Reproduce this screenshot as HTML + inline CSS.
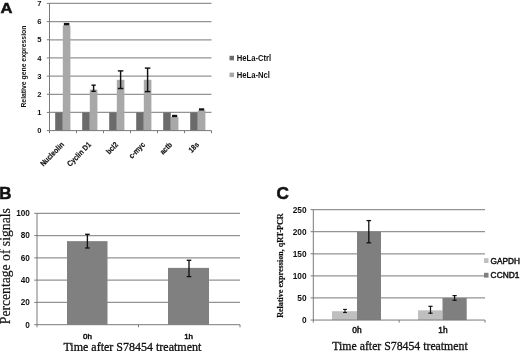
<!DOCTYPE html>
<html><head><meta charset="utf-8"><title>Figure</title>
<style>
html,body{margin:0;padding:0;background:#fff;}
body{width:520px;height:351px;overflow:hidden;font-family:"Liberation Sans",sans-serif;}
svg{display:block;filter:grayscale(1);will-change:transform;}
</style></head><body>
<svg width="520" height="351" viewBox="0 0 520 351">
<rect x="0" y="0" width="520" height="351" fill="#ffffff"/>
<line x1="49.50" y1="112.43" x2="211.50" y2="112.43" stroke="#939393" stroke-width="1.25"/>
<line x1="49.50" y1="94.26" x2="211.50" y2="94.26" stroke="#939393" stroke-width="1.25"/>
<line x1="49.50" y1="76.09" x2="211.50" y2="76.09" stroke="#939393" stroke-width="1.25"/>
<line x1="49.50" y1="57.92" x2="211.50" y2="57.92" stroke="#939393" stroke-width="1.25"/>
<line x1="49.50" y1="39.75" x2="211.50" y2="39.75" stroke="#939393" stroke-width="1.25"/>
<line x1="49.50" y1="21.58" x2="211.50" y2="21.58" stroke="#939393" stroke-width="1.25"/>
<line x1="49.50" y1="3.41" x2="211.50" y2="3.41" stroke="#939393" stroke-width="1.25"/>
<rect x="55.20" y="112.43" width="7.60" height="18.17" fill="#6b6b6b"/>
<rect x="62.80" y="25.40" width="7.60" height="105.20" fill="#a8a8a8"/>
<rect x="82.20" y="112.43" width="7.60" height="18.17" fill="#6b6b6b"/>
<rect x="89.80" y="89.59" width="7.60" height="41.01" fill="#a8a8a8"/>
<rect x="109.20" y="112.43" width="7.60" height="18.17" fill="#6b6b6b"/>
<rect x="116.80" y="79.80" width="7.60" height="50.80" fill="#a8a8a8"/>
<rect x="136.20" y="112.43" width="7.60" height="18.17" fill="#6b6b6b"/>
<rect x="143.80" y="79.80" width="7.60" height="50.80" fill="#a8a8a8"/>
<rect x="163.20" y="112.43" width="7.60" height="18.17" fill="#6b6b6b"/>
<rect x="170.80" y="116.90" width="7.60" height="13.70" fill="#a8a8a8"/>
<rect x="190.20" y="112.43" width="7.60" height="18.17" fill="#6b6b6b"/>
<rect x="197.80" y="110.39" width="7.60" height="20.21" fill="#a8a8a8"/>
<line x1="49.50" y1="3.41" x2="49.50" y2="133.20" stroke="#7a7a7a" stroke-width="1"/>
<line x1="46.80" y1="130.60" x2="211.50" y2="130.60" stroke="#7a7a7a" stroke-width="1"/>
<line x1="46.80" y1="112.43" x2="49.50" y2="112.43" stroke="#7a7a7a" stroke-width="1"/>
<line x1="46.80" y1="94.26" x2="49.50" y2="94.26" stroke="#7a7a7a" stroke-width="1"/>
<line x1="46.80" y1="76.09" x2="49.50" y2="76.09" stroke="#7a7a7a" stroke-width="1"/>
<line x1="46.80" y1="57.92" x2="49.50" y2="57.92" stroke="#7a7a7a" stroke-width="1"/>
<line x1="46.80" y1="39.75" x2="49.50" y2="39.75" stroke="#7a7a7a" stroke-width="1"/>
<line x1="46.80" y1="21.58" x2="49.50" y2="21.58" stroke="#7a7a7a" stroke-width="1"/>
<line x1="46.80" y1="3.41" x2="49.50" y2="3.41" stroke="#7a7a7a" stroke-width="1"/>
<line x1="76.50" y1="130.60" x2="76.50" y2="133.20" stroke="#7a7a7a" stroke-width="1"/>
<line x1="103.50" y1="130.60" x2="103.50" y2="133.20" stroke="#7a7a7a" stroke-width="1"/>
<line x1="130.50" y1="130.60" x2="130.50" y2="133.20" stroke="#7a7a7a" stroke-width="1"/>
<line x1="157.50" y1="130.60" x2="157.50" y2="133.20" stroke="#7a7a7a" stroke-width="1"/>
<line x1="184.50" y1="130.60" x2="184.50" y2="133.20" stroke="#7a7a7a" stroke-width="1"/>
<line x1="211.50" y1="130.60" x2="211.50" y2="133.20" stroke="#7a7a7a" stroke-width="1"/>
<rect x="63.85" y="22.90" width="5.50" height="2.50" fill="#111"/>
<line x1="93.60" y1="85.19" x2="93.60" y2="91.30" stroke="#111" stroke-width="1.45"/>
<line x1="91.50" y1="85.19" x2="95.70" y2="85.19" stroke="#111" stroke-width="1.45"/>
<line x1="91.50" y1="91.30" x2="95.70" y2="91.30" stroke="#111" stroke-width="1.45"/>
<line x1="120.60" y1="70.89" x2="120.60" y2="88.50" stroke="#111" stroke-width="1.45"/>
<line x1="117.85" y1="70.89" x2="123.35" y2="70.89" stroke="#111" stroke-width="1.45"/>
<line x1="117.85" y1="88.50" x2="123.35" y2="88.50" stroke="#111" stroke-width="1.45"/>
<line x1="147.60" y1="68.10" x2="147.60" y2="91.61" stroke="#111" stroke-width="1.45"/>
<line x1="144.85" y1="68.10" x2="150.35" y2="68.10" stroke="#111" stroke-width="1.45"/>
<line x1="144.85" y1="91.61" x2="150.35" y2="91.61" stroke="#111" stroke-width="1.45"/>
<rect x="172.00" y="114.80" width="5.20" height="2.30" fill="#111"/>
<rect x="199.00" y="108.30" width="5.20" height="2.30" fill="#111"/>
<text x="41.50" y="133.30" font-family='"Liberation Sans", sans-serif' font-size="7.6" font-weight="bold" text-anchor="end" fill="#111">0</text>
<text x="41.50" y="115.13" font-family='"Liberation Sans", sans-serif' font-size="7.6" font-weight="bold" text-anchor="end" fill="#111">1</text>
<text x="41.50" y="96.96" font-family='"Liberation Sans", sans-serif' font-size="7.6" font-weight="bold" text-anchor="end" fill="#111">2</text>
<text x="41.50" y="78.79" font-family='"Liberation Sans", sans-serif' font-size="7.6" font-weight="bold" text-anchor="end" fill="#111">3</text>
<text x="41.50" y="60.62" font-family='"Liberation Sans", sans-serif' font-size="7.6" font-weight="bold" text-anchor="end" fill="#111">4</text>
<text x="41.50" y="42.45" font-family='"Liberation Sans", sans-serif' font-size="7.6" font-weight="bold" text-anchor="end" fill="#111">5</text>
<text x="41.50" y="24.28" font-family='"Liberation Sans", sans-serif' font-size="7.6" font-weight="bold" text-anchor="end" fill="#111">6</text>
<text x="41.50" y="6.11" font-family='"Liberation Sans", sans-serif' font-size="7.6" font-weight="bold" text-anchor="end" fill="#111">7</text>
<text x="26.50" y="107.60" font-family='"Liberation Sans", sans-serif' font-size="7.8" font-weight="bold" text-anchor="start" fill="#111" transform="rotate(-90 26.50 107.60)" textLength="82.00" lengthAdjust="spacingAndGlyphs">Relative gene expression</text>
<text x="64.60" y="145.20" font-family='"Liberation Sans", sans-serif' font-size="7.8" font-weight="bold" text-anchor="end" fill="#111" transform="rotate(-45.5 64.60 145.20)" textLength="30.19" lengthAdjust="spacingAndGlyphs" stroke="#111" stroke-width="0.15">Nucleolin</text>
<text x="91.60" y="145.20" font-family='"Liberation Sans", sans-serif' font-size="7.8" font-weight="bold" text-anchor="end" fill="#111" transform="rotate(-45.5 91.60 145.20)" textLength="30.57" lengthAdjust="spacingAndGlyphs" stroke="#111" stroke-width="0.15">Cyclin D1</text>
<text x="118.60" y="145.20" font-family='"Liberation Sans", sans-serif' font-size="7.8" font-weight="bold" text-anchor="end" fill="#111" transform="rotate(-45.5 118.60 145.20)" textLength="13.42" lengthAdjust="spacingAndGlyphs" stroke="#111" stroke-width="0.15">bcl2</text>
<text x="145.60" y="145.20" font-family='"Liberation Sans", sans-serif' font-size="7.8" font-weight="bold" text-anchor="end" fill="#111" transform="rotate(-45.5 145.60 145.20)" textLength="19.39" lengthAdjust="spacingAndGlyphs" stroke="#111" stroke-width="0.15">c-myc</text>
<text x="172.60" y="145.20" font-family='"Liberation Sans", sans-serif' font-size="7.8" font-weight="bold" text-anchor="end" fill="#111" transform="rotate(-45.5 172.60 145.20)" textLength="13.79" lengthAdjust="spacingAndGlyphs" stroke="#111" stroke-width="0.15">actb</text>
<text x="199.60" y="145.20" font-family='"Liberation Sans", sans-serif' font-size="7.8" font-weight="bold" text-anchor="end" fill="#111" transform="rotate(-45.5 199.60 145.20)" textLength="11.19" lengthAdjust="spacingAndGlyphs" stroke="#111" stroke-width="0.15">18s</text>
<rect x="229.50" y="55.80" width="4.50" height="4.50" fill="#6b6b6b"/>
<text x="236.70" y="60.60" font-family='"Liberation Sans", sans-serif' font-size="8.4" font-weight="bold" text-anchor="start" fill="#111" textLength="34.50" lengthAdjust="spacingAndGlyphs">HeLa-Ctrl</text>
<rect x="229.50" y="72.60" width="4.50" height="4.50" fill="#a8a8a8"/>
<text x="236.70" y="77.80" font-family='"Liberation Sans", sans-serif' font-size="8.4" font-weight="bold" text-anchor="start" fill="#111" textLength="33.30" lengthAdjust="spacingAndGlyphs">HeLa-Ncl</text>
<text x="0.50" y="13.30" font-family='"Liberation Sans", sans-serif' font-size="15.2" font-weight="bold" text-anchor="start" fill="#111" textLength="12.00" lengthAdjust="spacingAndGlyphs" stroke="#111" stroke-width="0.5">A</text>
<line x1="37.00" y1="302.42" x2="240.00" y2="302.42" stroke="#939393" stroke-width="1.25"/>
<line x1="37.00" y1="280.14" x2="240.00" y2="280.14" stroke="#939393" stroke-width="1.25"/>
<line x1="37.00" y1="257.86" x2="240.00" y2="257.86" stroke="#939393" stroke-width="1.25"/>
<line x1="37.00" y1="235.58" x2="240.00" y2="235.58" stroke="#939393" stroke-width="1.25"/>
<line x1="37.00" y1="213.30" x2="240.00" y2="213.30" stroke="#939393" stroke-width="1.25"/>
<rect x="67.00" y="241.15" width="40.50" height="83.55" fill="#808080"/>
<rect x="168.00" y="267.89" width="41.00" height="56.81" fill="#808080"/>
<line x1="37.00" y1="213.30" x2="37.00" y2="327.30" stroke="#7a7a7a" stroke-width="1"/>
<line x1="34.30" y1="324.70" x2="240.00" y2="324.70" stroke="#7a7a7a" stroke-width="1"/>
<line x1="34.30" y1="302.42" x2="37.00" y2="302.42" stroke="#7a7a7a" stroke-width="1"/>
<line x1="34.30" y1="280.14" x2="37.00" y2="280.14" stroke="#7a7a7a" stroke-width="1"/>
<line x1="34.30" y1="257.86" x2="37.00" y2="257.86" stroke="#7a7a7a" stroke-width="1"/>
<line x1="34.30" y1="235.58" x2="37.00" y2="235.58" stroke="#7a7a7a" stroke-width="1"/>
<line x1="34.30" y1="213.30" x2="37.00" y2="213.30" stroke="#7a7a7a" stroke-width="1"/>
<line x1="138.50" y1="324.70" x2="138.50" y2="327.30" stroke="#7a7a7a" stroke-width="1"/>
<line x1="240.00" y1="324.70" x2="240.00" y2="327.30" stroke="#7a7a7a" stroke-width="1"/>
<line x1="87.40" y1="234.30" x2="87.40" y2="248.00" stroke="#111" stroke-width="1.35"/>
<line x1="85.10" y1="234.30" x2="89.70" y2="234.30" stroke="#111" stroke-width="1.35"/>
<line x1="85.10" y1="248.00" x2="89.70" y2="248.00" stroke="#111" stroke-width="1.35"/>
<line x1="189.00" y1="260.30" x2="189.00" y2="276.60" stroke="#111" stroke-width="1.35"/>
<line x1="186.70" y1="260.30" x2="191.30" y2="260.30" stroke="#111" stroke-width="1.35"/>
<line x1="186.70" y1="276.60" x2="191.30" y2="276.60" stroke="#111" stroke-width="1.35"/>
<text x="29.80" y="327.60" font-family='"Liberation Sans", sans-serif' font-size="8.2" font-weight="bold" text-anchor="end" fill="#111">0</text>
<text x="29.80" y="305.32" font-family='"Liberation Sans", sans-serif' font-size="8.2" font-weight="bold" text-anchor="end" fill="#111">20</text>
<text x="29.80" y="283.04" font-family='"Liberation Sans", sans-serif' font-size="8.2" font-weight="bold" text-anchor="end" fill="#111">40</text>
<text x="29.80" y="260.76" font-family='"Liberation Sans", sans-serif' font-size="8.2" font-weight="bold" text-anchor="end" fill="#111">60</text>
<text x="29.80" y="238.48" font-family='"Liberation Sans", sans-serif' font-size="8.2" font-weight="bold" text-anchor="end" fill="#111">80</text>
<text x="29.80" y="216.20" font-family='"Liberation Sans", sans-serif' font-size="8.2" font-weight="bold" text-anchor="end" fill="#111">100</text>
<text x="87.40" y="338.50" font-family='"Liberation Sans", sans-serif' font-size="8" font-weight="normal" text-anchor="middle" fill="#111" stroke="#111" stroke-width="0.5">0h</text>
<text x="188.60" y="338.50" font-family='"Liberation Sans", sans-serif' font-size="8" font-weight="normal" text-anchor="middle" fill="#111" stroke="#111" stroke-width="0.5">1h</text>
<text x="63.40" y="350.50" font-family='"Liberation Serif", serif' font-size="12" font-weight="normal" text-anchor="start" fill="#111" textLength="138.00" lengthAdjust="spacingAndGlyphs" stroke="#111" stroke-width="0.3">Time after S78454 treatment</text>
<text x="10.00" y="324.20" font-family='"Liberation Serif", serif' font-size="14" font-weight="normal" text-anchor="start" fill="#111" transform="rotate(-90 10.00 324.20)" textLength="116.00" lengthAdjust="spacingAndGlyphs" stroke="#111" stroke-width="0.2">Percentage of signals</text>
<text x="-0.80" y="198.90" font-family='"Liberation Sans", sans-serif' font-size="15.6" font-weight="bold" text-anchor="start" fill="#111" textLength="12.20" lengthAdjust="spacingAndGlyphs" stroke="#111" stroke-width="0.5">B</text>
<line x1="313.30" y1="297.96" x2="485.00" y2="297.96" stroke="#939393" stroke-width="1.25"/>
<line x1="313.30" y1="275.87" x2="485.00" y2="275.87" stroke="#939393" stroke-width="1.25"/>
<line x1="313.30" y1="253.78" x2="485.00" y2="253.78" stroke="#939393" stroke-width="1.25"/>
<line x1="313.30" y1="231.69" x2="485.00" y2="231.69" stroke="#939393" stroke-width="1.25"/>
<line x1="313.30" y1="209.60" x2="485.00" y2="209.60" stroke="#939393" stroke-width="1.25"/>
<rect x="332.00" y="311.21" width="25.00" height="8.84" fill="#bfbfbf"/>
<rect x="357.00" y="231.69" width="24.00" height="88.36" fill="#7f7f7f"/>
<rect x="418.00" y="310.33" width="24.50" height="9.72" fill="#bfbfbf"/>
<rect x="442.50" y="297.96" width="24.20" height="22.09" fill="#7f7f7f"/>
<line x1="313.30" y1="209.60" x2="313.30" y2="322.65" stroke="#7a7a7a" stroke-width="1"/>
<line x1="310.60" y1="320.05" x2="485.00" y2="320.05" stroke="#7a7a7a" stroke-width="1"/>
<line x1="310.60" y1="297.96" x2="313.30" y2="297.96" stroke="#7a7a7a" stroke-width="1"/>
<line x1="310.60" y1="275.87" x2="313.30" y2="275.87" stroke="#7a7a7a" stroke-width="1"/>
<line x1="310.60" y1="253.78" x2="313.30" y2="253.78" stroke="#7a7a7a" stroke-width="1"/>
<line x1="310.60" y1="231.69" x2="313.30" y2="231.69" stroke="#7a7a7a" stroke-width="1"/>
<line x1="310.60" y1="209.60" x2="313.30" y2="209.60" stroke="#7a7a7a" stroke-width="1"/>
<line x1="399.15" y1="320.05" x2="399.15" y2="322.65" stroke="#7a7a7a" stroke-width="1"/>
<line x1="485.00" y1="320.05" x2="485.00" y2="322.65" stroke="#7a7a7a" stroke-width="1"/>
<line x1="345.00" y1="309.40" x2="345.00" y2="312.50" stroke="#111" stroke-width="1.1"/>
<line x1="343.10" y1="309.40" x2="346.90" y2="309.40" stroke="#111" stroke-width="1.1"/>
<line x1="343.10" y1="312.50" x2="346.90" y2="312.50" stroke="#111" stroke-width="1.1"/>
<line x1="368.80" y1="220.60" x2="368.80" y2="242.80" stroke="#111" stroke-width="1.3"/>
<line x1="366.50" y1="220.60" x2="371.10" y2="220.60" stroke="#111" stroke-width="1.3"/>
<line x1="366.50" y1="242.80" x2="371.10" y2="242.80" stroke="#111" stroke-width="1.3"/>
<line x1="430.50" y1="306.30" x2="430.50" y2="313.20" stroke="#111" stroke-width="1.2"/>
<line x1="428.40" y1="306.30" x2="432.60" y2="306.30" stroke="#111" stroke-width="1.2"/>
<line x1="428.40" y1="313.20" x2="432.60" y2="313.20" stroke="#111" stroke-width="1.2"/>
<line x1="454.60" y1="295.60" x2="454.60" y2="300.30" stroke="#111" stroke-width="1.2"/>
<line x1="452.50" y1="295.60" x2="456.70" y2="295.60" stroke="#111" stroke-width="1.2"/>
<line x1="452.50" y1="300.30" x2="456.70" y2="300.30" stroke="#111" stroke-width="1.2"/>
<text x="306.50" y="323.05" font-family='"Liberation Sans", sans-serif' font-size="8.3" font-weight="bold" text-anchor="end" fill="#111">0</text>
<text x="306.50" y="300.96" font-family='"Liberation Sans", sans-serif' font-size="8.3" font-weight="bold" text-anchor="end" fill="#111">50</text>
<text x="306.50" y="278.87" font-family='"Liberation Sans", sans-serif' font-size="8.3" font-weight="bold" text-anchor="end" fill="#111">100</text>
<text x="306.50" y="256.78" font-family='"Liberation Sans", sans-serif' font-size="8.3" font-weight="bold" text-anchor="end" fill="#111">150</text>
<text x="306.50" y="234.69" font-family='"Liberation Sans", sans-serif' font-size="8.3" font-weight="bold" text-anchor="end" fill="#111">200</text>
<text x="306.50" y="212.60" font-family='"Liberation Sans", sans-serif' font-size="8.3" font-weight="bold" text-anchor="end" fill="#111">250</text>
<text x="357.00" y="333.00" font-family='"Liberation Sans", sans-serif' font-size="8.4" font-weight="normal" text-anchor="middle" fill="#111" stroke="#111" stroke-width="0.45">0h</text>
<text x="443.00" y="333.00" font-family='"Liberation Sans", sans-serif' font-size="8.4" font-weight="normal" text-anchor="middle" fill="#111" stroke="#111" stroke-width="0.45">1h</text>
<text x="332.30" y="350.30" font-family='"Liberation Serif", serif' font-size="11.8" font-weight="normal" text-anchor="start" fill="#111" textLength="135.40" lengthAdjust="spacingAndGlyphs" stroke="#111" stroke-width="0.3">Time after S78454 treatment</text>
<text x="282.90" y="317.80" font-family='"Liberation Serif", serif' font-size="8.2" font-weight="bold" text-anchor="start" fill="#111" transform="rotate(-90 282.90 317.80)" textLength="104.50" lengthAdjust="spacingAndGlyphs" stroke="#111" stroke-width="0.2">Relative expression, qRT-PCR</text>
<rect x="484.00" y="258.20" width="4.50" height="4.80" fill="#bfbfbf"/>
<text x="490.60" y="263.50" font-family='"Liberation Sans", sans-serif' font-size="8.3" font-weight="normal" text-anchor="start" fill="#111" textLength="29.30" lengthAdjust="spacingAndGlyphs" stroke="#111" stroke-width="0.45">GAPDH</text>
<rect x="484.00" y="272.80" width="4.50" height="4.80" fill="#7f7f7f"/>
<text x="490.60" y="277.80" font-family='"Liberation Sans", sans-serif' font-size="8.3" font-weight="normal" text-anchor="start" fill="#111" textLength="28.80" lengthAdjust="spacingAndGlyphs" stroke="#111" stroke-width="0.45">CCND1</text>
<text x="276.40" y="199.00" font-family='"Liberation Sans", sans-serif' font-size="15.8" font-weight="bold" text-anchor="start" fill="#111" textLength="12.40" lengthAdjust="spacingAndGlyphs" stroke="#111" stroke-width="0.5">C</text>
</svg>
</body></html>
